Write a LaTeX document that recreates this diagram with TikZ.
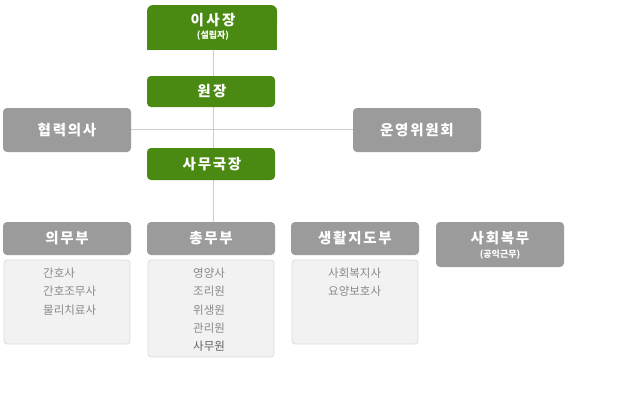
\documentclass[tikz,border=0pt]{standalone}
\usepackage{fontspec}
\setmainfont{Noto Sans CJK KR}
\newfontfamily\headfont{Noto Sans CJK KR}[LetterSpace=12]
\definecolor{grn}{HTML}{4B8A12}
\definecolor{gry}{HTML}{9B9B9B}
\definecolor{lst}{HTML}{F2F2F2}
\definecolor{lstb}{HTML}{DDDDDD}
\definecolor{ln}{HTML}{CCCCCC}
\definecolor{itm}{HTML}{8A8A8A}
\tikzset{
  head/.style={rounded corners=4pt, text=white, font=\headfont\bfseries\fontsize{14.5}{16}\selectfont, align=center, inner sep=0pt},
  sub/.style={text=white, font=\bfseries\fontsize{9}{10}\selectfont, inner sep=0pt},
  listbox/.style={rounded corners=3pt, fill=lst, draw=lstb, line width=0.8pt},
  item/.style={text=itm, font=\fontsize{11.5}{13}\selectfont, inner sep=0pt, anchor=west},
  conn/.style={draw=ln, line width=0.9pt}
}
\begin{document}
\begin{tikzpicture}[x=1pt,y=-1pt]
\useasboundingbox (0,0) rectangle (617,400);
% connectors first
\coordinate (vt) at (213,50);
\coordinate (vb) at (213,222);
\draw[conn] (vt) -- (vb);
% chairman box (top rounded only)
\fill[grn, rounded corners=6pt] (147,5) rectangle (277,30);
\fill[grn] (147,20) rectangle (277,50);
\node[head] (chair) at (213,20) {이\,사\,장};
\node[sub] (chairsub) at (213,36) {(설립자)};
\path[head, fill=grn] (147,76) rectangle (275,107);
\node[head] (won) at (212,91.5) {원\,장};
\path[head, fill=grn] (147,148) rectangle (275,180);
\node[head] (samu) at (212,164) {사무국장};
\path[head, fill=gry] (3,108) rectangle (131,152);
\node[head] (hyup) at (67,130) {협력의사};
\path[head, fill=gry] (353,108) rectangle (481,152);
\node[head] (unyeong) at (417,130) {운영위원회};
\coordinate (hl) at (131,129);
\coordinate (hr) at (353,129);
\draw[conn] (hl) -- (hr);
% departments
\path[head, fill=gry] (3,222) rectangle (131,255);
\node[head] (uimu) at (67,238.5) {의무부};
\path[head, fill=gry] (147,222) rectangle (275,255);
\node[head] (chongmu) at (211,238.5) {총무부};
\path[head, fill=gry] (291,222) rectangle (419,255);
\node[head] (saenghwal) at (355,238.5) {생활지도부};
\path[head, fill=gry] (436,222) rectangle (564,267);
\node[head] (sahoe) at (500,238) {사회복무};
\node[sub] (sahoesub) at (500,255) {(공익근무)};
% lists
\path[listbox] (4,260) rectangle (130,344);
\path[listbox] (148,260) rectangle (274,357);
\path[listbox] (292,260) rectangle (418,344);
\node[item] (a1) at (43,273) {간호사};
\node[item] (a2) at (43,291.5) {간호조무사};
\node[item] (a3) at (43,310) {물리치료사};
\node[item] (b1) at (193,273) {영양사};
\node[item] (b2) at (193,291.5) {조리원};
\node[item] (b3) at (193,310) {위생원};
\node[item] (b4) at (193,328.5) {관리원};
\node[item, text=itm!70!black] (b5) at (193,346) {사무원};
\node[item] (c1) at (328,273) {사회복지사};
\node[item] (c2) at (328,291.5) {요양보호사};
\end{tikzpicture}
\end{document}
